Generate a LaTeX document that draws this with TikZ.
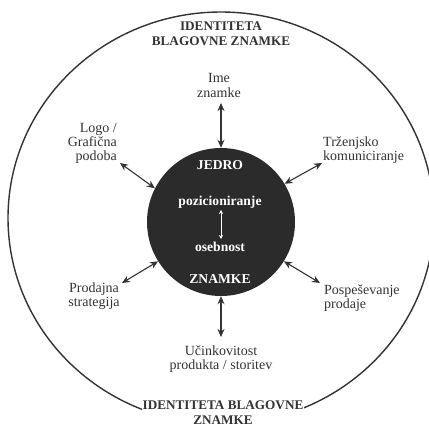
\documentclass[tikz,border=0pt]{standalone}
\usepackage{fontspec}
\setmainfont{Liberation Serif}
\usetikzlibrary{arrows.meta}
\definecolor{ink}{HTML}{333333}
\definecolor{corefill}{HTML}{2B2B2B}
\begin{document}
\begin{tikzpicture}[x=1pt,y=-1pt,
  lbl/.style={font=\fontsize{14}{14.2}\selectfont, text=ink, inner sep=0pt},
  ttl/.style={font=\fontsize{13.2}{15}\selectfont\bfseries, text=ink, inner sep=0pt},
  inw/.style={font=\fontsize{13.6}{15}\selectfont\bfseries, text=white, inner sep=0pt},
  dbl/.style={{Stealth[length=8pt,width=7pt]}-{Stealth[length=8pt,width=7pt]}, draw=ink, line width=1.1pt},
  wdbl/.style={{Stealth[length=4pt,width=4pt]}-{Stealth[length=4pt,width=4pt]}, draw=white, line width=0.8pt}]
\useasboundingbox (0,0) rectangle (429,428);
\clip (0,0) rectangle (429,428);
\fill[white] (0,0) rectangle (429,428);
\draw[ink, line width=1.4pt] (221,218) ellipse [x radius=213, y radius=206];
\node[circle, fill=corefill, minimum size=148pt, inner sep=0pt] (core) at (221,222) {};
% inner texts
\node[inw] (jedro) at (220,165) {JEDRO};
\node[inw] (poz) at (220,202) {pozicioniranje};
\node[inw] (oseb) at (220,247) {osebnost};
\node[inw] (znamke) at (220,279) {ZNAMKE};
\coordinate (wa) at (221,210);
\coordinate (wb) at (221,239);
\draw[wdbl] (wa) -- (wb);
% outer labels
\node[ttl, align=center] (top) at (221,34) {IDENTITETA\\BLAGOVNE ZNAMKE};
\node[lbl, align=center] (ime) at (219,85.5) {Ime\\znamke};
\node[lbl, align=right, anchor=east] (logo) at (117,143.5) {Logo /\\Grafična\\podoba};
\node[lbl, align=left, anchor=west] (trz) at (323,150) {Trženjsko\\komuniciranje};
\node[lbl, align=center] (prod) at (94,296) {Prodajna\\strategija};
\node[lbl, align=left, anchor=west] (posp) at (324,298) {Pospeševanje\\prodaje};
\node[lbl, align=center] (ucin) at (221,359.5) {Učinkovitost\\produkta / storitev};
\node[ttl, align=center, fill=white, inner xsep=1pt, inner ysep=2pt] (bot) at (223,413) {IDENTITETA BLAGOVNE\\ZNAMKE};
% arrow end points
\coordinate (imeA) at (221,103);
\coordinate (logoA) at (120,163);
\coordinate (trzA) at (322,163);
\coordinate (prodA) at (122,283);
\coordinate (pospA) at (320,283);
\coordinate (ucinA) at (221,337);
\draw[dbl] (imeA) -- (core.90);
\draw[dbl] (logoA) -- (core.153);
\draw[dbl] (trzA) -- (core.31);
\draw[dbl] (prodA) -- (core.212);
\draw[dbl] (pospA) -- (core.328);
\draw[dbl] (ucinA) -- (core.270);
\end{tikzpicture}
\end{document}
